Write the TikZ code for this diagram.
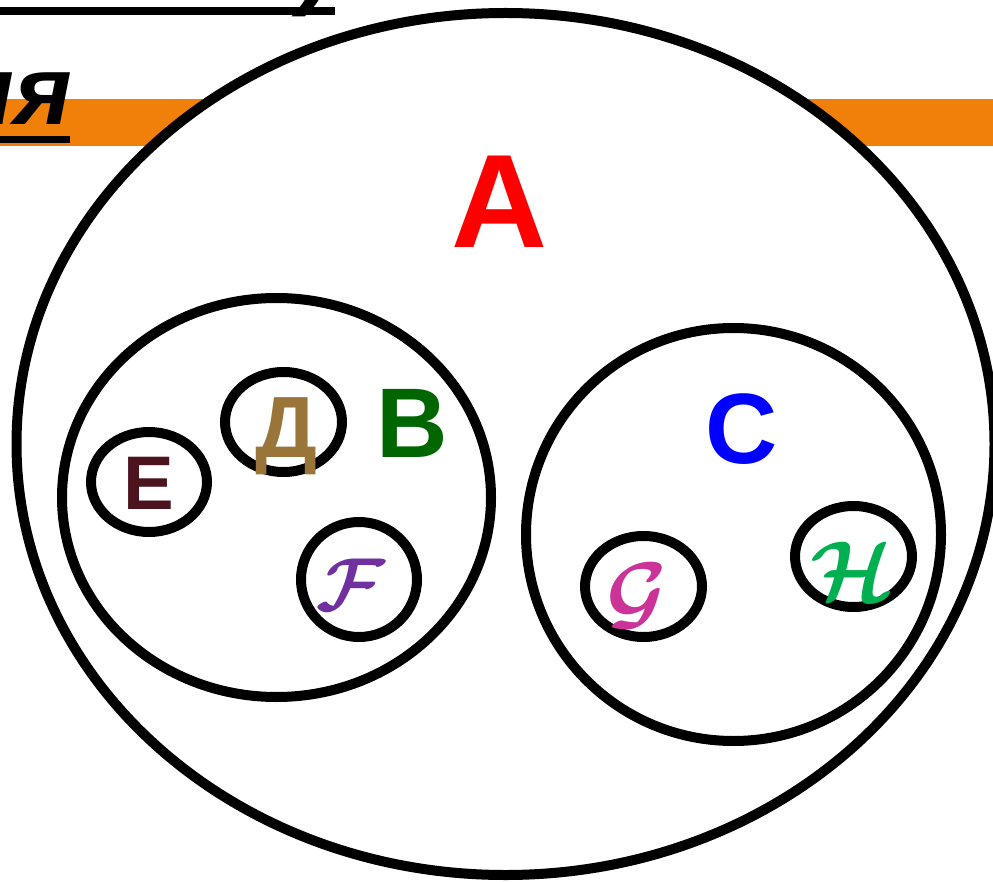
\documentclass[tikz,border=0pt]{standalone}
\usepackage{fontspec}
\setmainfont{Liberation Sans}
\usetikzlibrary{shapes.geometric}
\definecolor{barorange}{RGB}{240,128,10}
\definecolor{cA}{RGB}{255,0,0}
\definecolor{cB}{RGB}{0,102,0}
\definecolor{cC}{RGB}{0,0,255}
\definecolor{cE}{RGB}{76,20,30}
\definecolor{cD}{RGB}{153,117,58}
\definecolor{cF}{RGB}{112,48,160}
\definecolor{cG}{RGB}{204,51,153}
\definecolor{cH}{RGB}{0,176,80}
\begin{document}
\begin{tikzpicture}[x=1pt,y=-1pt,
  setshape/.style={ellipse, draw=black, line width=10pt, inner sep=0pt, fill=white},
  lbl/.style={inner sep=0pt, anchor=center},
  cal/.style={lbl, font=\boldmath},
  headtxt/.style={inner sep=0pt, font=\fontsize{98}{98}\selectfont\bfseries\itshape}]
\useasboundingbox (0,0) rectangle (993,882);
\clip (0,0) rectangle (993,882);
% orange bar
\fill[barorange] (0,99) rectangle (993,146);
% partially visible heading
\node[headtxt, anchor=base east] (head1) at (333,-3) {множество)};
\fill[black] (0,7) rectangle (335,15);
\node[headtxt, anchor=base east] (head2) at (72,125) {ия};
\fill[black] (0,136) rectangle (70,143);
% sets
\node[setshape, minimum width=978pt, minimum height=862pt] (A) at (505.5,444) {};
\node[setshape, minimum width=429pt, minimum height=399pt] (B) at (276.5,497.5) {};
\node[setshape, minimum width=415pt, minimum height=413pt] (C) at (733.5,534.5) {};
\node[setshape, minimum width=116pt, minimum height=100pt] (E) at (149,482) {};
\node[setshape, minimum width=117pt, minimum height=100pt] (D) at (283.5,422) {};
\node[setshape, minimum width=116pt, minimum height=115pt] (F) at (359,579.5) {};
\node[setshape, minimum width=117pt, minimum height=101pt] (G) at (643.5,586.5) {};
\node[setshape, minimum width=117pt, minimum height=101pt] (H) at (853.5,556.5) {};
% labels
\node[lbl, text=cA, font=\fontsize{133}{133}\selectfont\bfseries] (lA) at (500,202) {A};
\node[lbl, text=cB, font=\fontsize{99}{99}\selectfont\bfseries] (lB) at (412,423) {B};
\node[lbl, text=cC, font=\fontsize{100}{100}\selectfont\bfseries] (lC) at (742,429) {C};
\node[lbl, text=cE, font=\fontsize{76}{76}\selectfont\bfseries] (lE) at (149,483) {E};
\node[lbl, text=cD, font=\fontsize{87}{87}\selectfont\bfseries] (lD) at (286,436.5) {Д};
\node[cal, text=cF, scale=7.5] (lF) at (351,585) {$\mathcal{F}$};
\node[cal, text=cG, scale=8.3] (lG) at (637,596) {$\mathcal{G}$};
\node[cal, text=cH, scale=8.5] (lH) at (852,571) {$\mathcal{H}$};
\end{tikzpicture}
\end{document}
